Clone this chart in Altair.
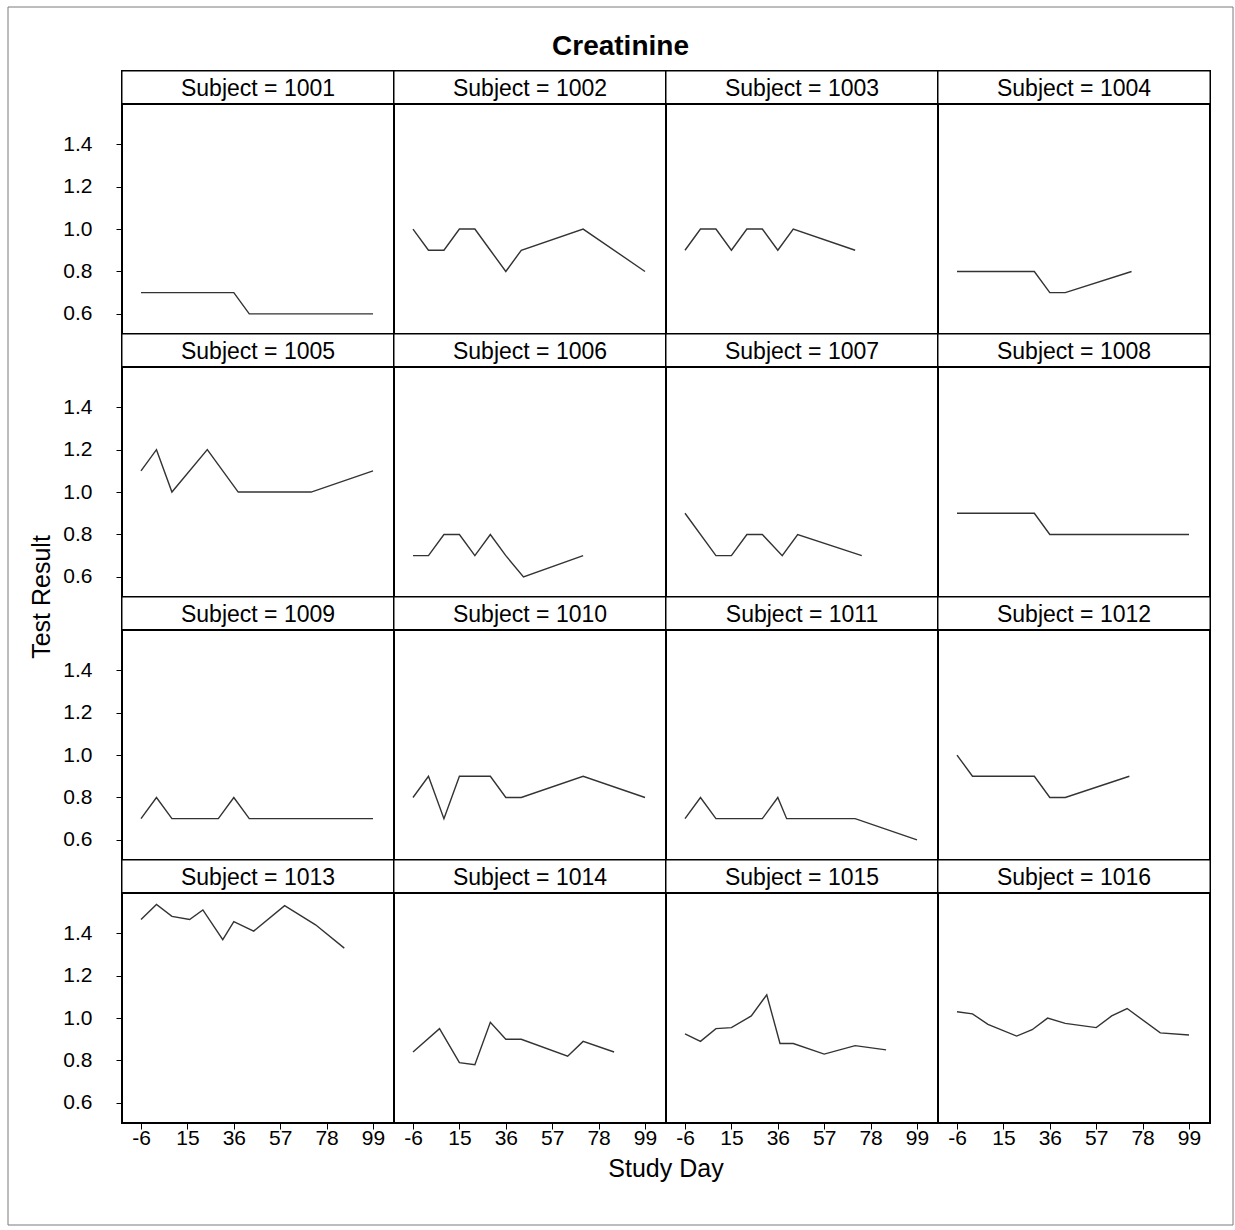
import altair as alt
import pandas as pd

subjects = [1001, 1002, 1003, 1004, 1005, 1006, 1007, 1008,
            1009, 1010, 1011, 1012, 1013, 1014, 1015, 1016]

days_1001 = [-6, 1, 8, 15, 22, 29, 36, 43, 57, 71, 85, 99]
vals_1001 = [0.7, 0.7, 0.7, 0.7, 0.7, 0.7, 0.7, 0.6, 0.6, 0.6, 0.6, 0.6]
days_1002 = [-6, 1, 8, 15, 22, 29, 36, 43, 71, 99]
vals_1002 = [1.0, 0.9, 0.9, 1.0, 1.0, 0.9, 0.8, 0.9, 1.0, 0.8]
days_1003 = [-6, 1, 8, 15, 22, 29, 36, 43, 71]
vals_1003 = [0.9, 1.0, 1.0, 0.9, 1.0, 1.0, 0.9, 1.0, 0.9]
days_1004 = [-6, 1, 8, 15, 22, 29, 36, 43, 73]
vals_1004 = [0.8, 0.8, 0.8, 0.8, 0.8, 0.8, 0.7, 0.7, 0.8]
days_1005 = [-6, 1, 8, 24, 38, 57, 71, 99]
vals_1005 = [1.1, 1.2, 1.0, 1.2, 1.0, 1.0, 1.0, 1.1]
days_1006 = [-6, 1, 8, 15, 22, 29, 36, 44, 71]
vals_1006 = [0.7, 0.7, 0.8, 0.8, 0.7, 0.8, 0.7, 0.6, 0.7]
days_1007 = [-6, 8, 15, 22, 29, 38, 45, 74]
vals_1007 = [0.9, 0.7, 0.7, 0.8, 0.8, 0.7, 0.8, 0.7]
days_1008 = [-6, 1, 8, 15, 22, 29, 36, 43, 57, 71, 85, 99]
vals_1008 = [0.9, 0.9, 0.9, 0.9, 0.9, 0.9, 0.8, 0.8, 0.8, 0.8, 0.8, 0.8]
days_1009 = [-6, 1, 8, 15, 22, 29, 36, 43, 57, 71, 85, 99]
vals_1009 = [0.7, 0.8, 0.7, 0.7, 0.7, 0.7, 0.8, 0.7, 0.7, 0.7, 0.7, 0.7]
days_1010 = [-6, 1, 8, 15, 22, 29, 36, 43, 71, 99]
vals_1010 = [0.8, 0.9, 0.7, 0.9, 0.9, 0.9, 0.8, 0.8, 0.9, 0.8]
days_1011 = [-6, 1, 8, 15, 22, 29, 36, 40, 57, 71, 99]
vals_1011 = [0.7, 0.8, 0.7, 0.7, 0.7, 0.7, 0.8, 0.7, 0.7, 0.7, 0.6]
days_1012 = [-6, 1, 8, 15, 22, 29, 36, 43, 72]
vals_1012 = [1.0, 0.9, 0.9, 0.9, 0.9, 0.9, 0.8, 0.8, 0.9]
days_1013 = [-6, 1, 8, 16, 22, 31, 36, 45, 59, 73, 86]
vals_1013 = [1.465, 1.536, 1.48, 1.465, 1.51, 1.37, 1.455, 1.41, 1.53, 1.44, 1.33]
days_1014 = [-6, 6, 15, 22, 29, 36, 43, 64, 71, 85]
vals_1014 = [0.84, 0.95, 0.79, 0.78, 0.98, 0.90, 0.90, 0.82, 0.89, 0.84]
days_1015 = [-6, 1, 8, 15, 24, 31, 37, 43, 57, 71, 85]
vals_1015 = [0.925, 0.89, 0.95, 0.955, 1.01, 1.11, 0.88, 0.88, 0.83, 0.87, 0.85]
days_1016 = [-6, 1, 8, 21, 28, 35, 43, 57, 64, 71, 86, 99]
vals_1016 = [1.03, 1.02, 0.97, 0.915, 0.945, 1.0, 0.975, 0.955, 1.01, 1.045, 0.93, 0.92]

x_ticks = [-6, 15, 36, 57, 78, 99]
y_ticks = [0.6, 0.8, 1.0, 1.2, 1.4]
x_title = "Study Day"
y_title = "Test Result"
chart_title = "Creatinine"

series = {
    1001: (days_1001, vals_1001), 1002: (days_1002, vals_1002),
    1003: (days_1003, vals_1003), 1004: (days_1004, vals_1004),
    1005: (days_1005, vals_1005), 1006: (days_1006, vals_1006),
    1007: (days_1007, vals_1007), 1008: (days_1008, vals_1008),
    1009: (days_1009, vals_1009), 1010: (days_1010, vals_1010),
    1011: (days_1011, vals_1011), 1012: (days_1012, vals_1012),
    1013: (days_1013, vals_1013), 1014: (days_1014, vals_1014),
    1015: (days_1015, vals_1015), 1016: (days_1016, vals_1016),
}

rows = []
for s in subjects:
    d, v = series[s]
    for x, y in zip(d, v):
        rows.append({"subject": s, "label": f"Subject = {s}", "day": x, "result": y})
df = pd.DataFrame(rows)

FONT = "Liberation Sans"
W, H, HEAD = 272, 263, 33
# decorations placed relative to the top-left panel's corner
FRAME_L, FRAME_T, FRAME_R, FRAME_B = -114, -64, 1111, 1154
YT_X, YT_Y = -80, 526
XT_X, XT_Y = 544, 1098

x_scale = alt.Scale(domain=[-14.6, 108.5], nice=False, zero=False)
y_scale = alt.Scale(domain=[0.505, 1.59], range=[H, HEAD], nice=False, zero=False)

base = alt.Chart()

line = base.mark_line(color="#333333", strokeWidth=1.4).encode(
    x=alt.X("day:Q", scale=x_scale,
            axis=alt.Axis(values=x_ticks, title=None, labelExpr="'' + datum.value",
                          labelPadding=-2)),
    y=alt.Y("result:Q", scale=y_scale,
            axis=alt.Axis(values=y_ticks, title=None, format=".1f", labelPadding=24)),
    order="day:Q",
)

first = base.transform_window(
    rn="row_number()", groupby=["subject"]
).transform_filter("datum.rn == 1")
corner = first.transform_filter("datum.subject == 1001")

head_rect = first.mark_rect(fill="white", stroke="black", strokeWidth=1).encode(
    x=alt.value(0), x2=alt.value(W), y=alt.value(0), y2=alt.value(HEAD)
)
head_sep = first.mark_rule(color="black", strokeWidth=2).encode(
    x=alt.value(0), x2=alt.value(W), y=alt.value(HEAD)
)
head_text = first.mark_text(font=FONT, fontSize=23, color="black", baseline="middle").encode(
    x=alt.value(W / 2), y=alt.value(HEAD / 2 + 1), text="label:N"
)
frame = corner.mark_rect(
    fill="white", fillOpacity=0, stroke="#7a7a7a", strokeWidth=1
).encode(
    x=alt.value(FRAME_L), x2=alt.value(FRAME_R), y=alt.value(FRAME_T), y2=alt.value(FRAME_B)
)
ytitle = corner.mark_text(
    text=y_title, font=FONT, fontSize=25, angle=270, color="black",
    baseline="middle", align="center"
).encode(x=alt.value(YT_X), y=alt.value(YT_Y))
xtitle = corner.mark_text(
    text=x_title, font=FONT, fontSize=25, color="black",
    baseline="middle", align="center"
).encode(x=alt.value(XT_X), y=alt.value(XT_Y))

panel = alt.layer(frame, head_rect, head_sep, head_text, ytitle, xtitle, line, data=df).properties(
    width=W, height=H,
    view=alt.ViewBackground(stroke="black", strokeWidth=2),
)

chart = panel.facet(
    row=alt.Row("r:O", header=None),
    column=alt.Column("c:O", header=None),
    spacing=0,
).transform_calculate(
    r="floor((datum.subject - 1001) / 4)",
    c="(datum.subject - 1001) % 4",
).properties(
    bounds="flush",
    title=alt.TitleParams(chart_title, anchor="middle", frame="bounds", offset=-55),
    padding={"left": 6, "top": 5, "right": 0, "bottom": 0},
    background="white",
).configure_axis(
    labelFont=FONT, labelFontSize=21, labelColor="black",
    tickColor="black", tickSize=6, domain=False, grid=False,
).configure_title(
    font=FONT, fontSize=28, fontWeight="bold", color="black"
)

chart.save("out.html", embed_options={"renderer": "svg", "actions": False})
